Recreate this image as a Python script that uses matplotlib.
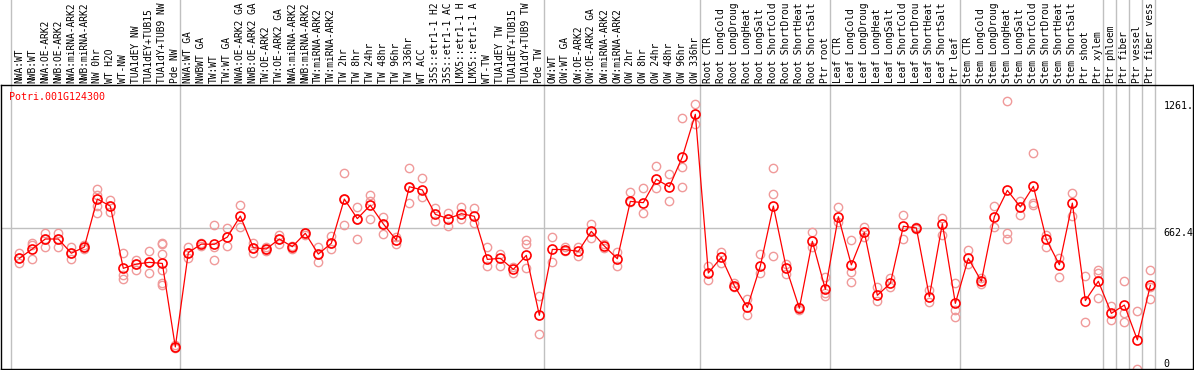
import matplotlib
matplotlib.use("Agg")
import matplotlib.pyplot as plt

# Muestras (etiquetas verticales de arriba, tal como se ven)
labels = [
    "NWA:WT", "NWB:WT", "NWA:OE-ARK2", "NWB:OE-ARK2", "NWA:miRNA-ARK2", "NWB:miRNA-ARK2",
    "NW 0hr", "WT H2O", "WT-NW", "TUA1dEY NW", "TUA1dEY+TUB15", "TUA1dY+TUB9 NW", "Pde NW",
    "NWA:WT GA", "NWBWT GA", "TW:WT", "TW:WT GA", "NWA:OE-ARK2 GA", "NWB:OE-ARK2 GA",
    "TW:OE-ARK2", "TW:OE-ARK2 GA", "NWA:miRNA-ARK2", "NWB:miRNA-ARK2", "TW:miRNA-ARK2",
    "TW:miRNA-ARK2", "TW 2hr", "TW 8hr", "TW 24hr", "TW 48hr", "TW 96hr", "TW 336hr",
    "WT ACC", "35S::etr1-1 H2", "35S::etr1-1 AC", "LMX5::etr1-1 H", "LMX5::etr1-1 A",
    "WT-TW", "TUA1dEY TW", "TUA1dEY+TUB15", "TUA1dY+TUB9 TW", "Pde TW",
    "OW:WT", "OW:WT GA", "OW:OE-ARK2", "OW:OE-ARK2 GA", "OW:miRNA-ARK2", "OW:miRNA-ARK2",
    "OW 2hr", "OW 8hr", "OW 24hr", "OW 48hr", "OW 96hr", "OW 336hr",
    "Root CTR", "Root LongCold", "Root LongDroug", "Root LongHeat", "Root LongSalt",
    "Root ShortCold", "Root ShortDrou", "Root ShortHeat", "Root ShortSalt", "Ptr root",
    "Leaf CTR", "Leaf LongCold", "Leaf LongDroug", "Leaf LongHeat", "Leaf LongSalt",
    "Leaf ShortCold", "Leaf ShortDrou", "Leaf ShortHeat", "Leaf ShortSalt", "Ptr leaf",
    "Stem CTR", "Stem LongCold", "Stem LongDroug", "Stem LongHeat", "Stem LongSalt",
    "Stem ShortCold", "Stem ShortDrou", "Stem ShortHeat", "Stem ShortSalt", "Ptr shoot",
    "Ptr xylem",
    "Ptr phloem", "Ptr fiber", "Ptr vessel", "Ptr fiber vess",
]

# Cuantas muestras tiene cada grupo (separadores grises)
group_sizes = [13, 28, 12, 10, 10, 11, 1, 1, 1, 1]

# Media por muestra
means = [
    521, 565, 612, 612, 545, 574, 800, 767, 474, 494, 502, 497, 104,
    548, 588, 587, 621, 720, 571, 565, 612, 576, 639, 541, 592, 800, 708, 771, 683, 607,
    858, 843, 728, 708, 731, 719, 516, 521, 469, 535, 253,
    563, 562, 554, 648, 579, 519, 789, 783, 893, 858, 998, 1199,
    452, 526, 392, 290, 485, 767, 474, 286, 601, 375,
    717, 490, 643, 347, 403, 672, 664, 341, 684, 309,
    521, 413, 717, 841, 763, 860, 610, 491, 781, 322, 413,
    262, 301, 137, 394,
]

# Replicas por muestra
reps = [
    [545, 521, 501], [595, 582, 516], [642, 612, 573], [642, 612, 576], [576, 545, 516],
    [582, 574, 563], [846, 819, 769, 733], [796, 767, 741], [548, 443, 425], [513, 494, 466],
    [554, 502, 454], [595, 588, 541, 466, 406, 394], [113, 104, 97],
    [574, 548, 521], [595, 579], [676, 576, 512], [662, 579], [771, 670], [593, 571, 545],
    [573, 565, 554], [631, 612, 587], [579, 567], [642, 632], [576, 541, 505],
    [626, 592, 563], [921, 800, 676], [761, 708, 610], [819, 792, 706], [717, 683, 636],
    [623, 588], [945, 858, 780], [898, 811], [756, 698], [733, 675], [761, 705], [756, 689],
    [573, 485], [541, 486], [482, 454], [607, 588, 474], [344, 163],
    [620, 505], [576, 554], [576, 534], [683, 615], [588, 570], [549, 485], [832, 788],
    [851, 733], [954, 851], [918, 789], [1180, 949, 855], [1246, 1152],
    [485, 419], [552, 497], [403, 384], [328, 253], [541, 454], [945, 822, 532], [494, 446],
    [293, 278], [643, 576], [435, 356, 344],
    [761, 694], [607, 458, 408], [670, 623], [388, 322], [427, 388], [723, 610], [670, 658],
    [372, 317], [712, 631], [406, 278, 246],
    [560, 494], [427, 400], [769, 670], [1261, 639, 610], [792, 723], [1015, 780, 772],
    [629, 576], [521, 435], [827, 720], [439, 220], [466, 454, 333],
    [297, 231], [413, 262, 220], [273, 0], [465, 384, 331],
]

gene = "Potri.001G124300"
y_max_label = "1261."
y_max_value = 1261
y_mid = 662.4

mono = "DejaVu Sans Mono"
grey = "#c0c0c0"

fig = plt.figure(figsize=(11.94, 3.70), dpi=100)
ax = fig.add_axes([1 / 1194, 1 / 370, 1192 / 1194, 284 / 370])
trans = ax.get_xaxis_transform()

# separadores de grupos
bounds = [0]
for g in group_sizes:
    bounds.append(bounds[-1] + g)
for b in bounds:
    ax.plot([b - 0.62, b - 0.62], [0, 1.3], transform=trans, color=grey, lw=1,
            clip_on=False, zorder=0)

x0 = -1.408
ax.plot([x0, bounds[-1] - 0.62], [y_mid, y_mid], color=grey, lw=1, zorder=0)

# replicas
for i, r in enumerate(reps):
    ax.plot([i] * len(r), r, "o", ms=6, mfc="none", mec="#f09a9a", mew=1, zorder=2)

# medias
x = list(range(len(means)))
ax.plot(x, means, "-", color="red", lw=0.9, zorder=3)
ax.plot(x, means, "o", ms=6.5, mfc="none", mec="red", mew=1.2, zorder=4)

ax.set_xlim(x0, 90.28)
ax.set_ylim(0, 1337)
ax.set_xticks([])
ax.set_yticks([])
for s in ax.spines.values():
    s.set_color("black")
    s.set_linewidth(1)

# etiquetas de muestras
for i, lab in enumerate(labels):
    ax.text(i, 1.008, lab, transform=trans, rotation=90, ha="center", va="bottom",
            fontsize=6.9, family=mono, clip_on=False)

# textos del eje derecho
n = len(means)
ax.text(n, y_max_value, y_max_label, ha="left", va="top", fontsize=7.2, family=mono)
ax.text(n, y_mid, str(y_mid), ha="left", va="top", fontsize=7.2, family=mono)
ax.text(n, 0, "0", ha="left", va="bottom", fontsize=7.2, family=mono)

ax.text(0.007, 0.9595, gene, color="red", transform=ax.transAxes, ha="left",
        va="center", fontsize=7.2, family=mono)

fig.savefig("out.png", dpi=100)
plt.close(fig)
